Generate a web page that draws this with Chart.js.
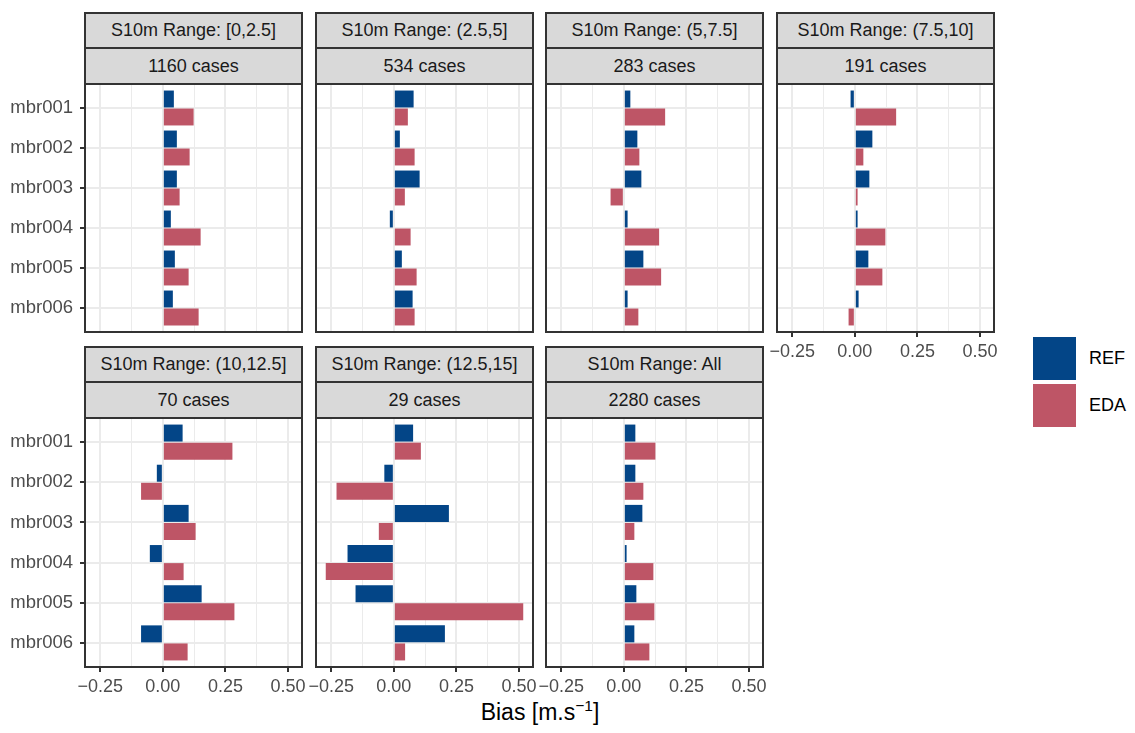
<!DOCTYPE html>
<html>
<head>
<meta charset="utf-8">
<script src="https://cdn.jsdelivr.net/npm/chart.js@4.4.1/dist/chart.umd.min.js"></script>
<style>
  html, body { margin: 0; padding: 0; background: #fff; }
  body { width: 1135px; height: 733px; overflow: hidden; position: relative;
         font-family: "Liberation Sans", Arial, Helvetica, sans-serif; }
  .strip { position: absolute; box-sizing: border-box; background: #d9d9d9;
           border: 2px solid #333; color: #1a1a1a; font-size: 18px;
           display: flex; align-items: center; justify-content: center; white-space: nowrap; }
  canvas { position: absolute; }
  .key { position: absolute; width: 43px; height: 43px; }
  .keylab { position: absolute; font-size: 18px; color: #000; line-height: 43px; }
  #xtitle { position: absolute; left: 0; width: 1080px; top: 699px; text-align: center;
            font-size: 23px; color: #000; }
  #xtitle sup { font-size: 15.5px; vertical-align: 9px; line-height: 0; }
</style>
</head>
<body>
<div id="xtitle">Bias [m.s<sup>&minus;1</sup>]</div>
<script>
// Ensemble members (y categories)
const members = ['mbr001', 'mbr002', 'mbr003', 'mbr004', 'mbr005', 'mbr006'];

// Facet headers
const rangeLabels = ['S10m Range: [0,2.5]', 'S10m Range: (2.5,5]', 'S10m Range: (5,7.5]',
                     'S10m Range: (7.5,10]', 'S10m Range: (10,12.5]', 'S10m Range: (12.5,15]',
                     'S10m Range: All'];
const caseCounts = [1160, 534, 283, 191, 70, 29, 2280];

// Bias per wind-speed class, one row per facet, one value per member
const refBias = [
  [0.044, 0.056, 0.056, 0.032, 0.048, 0.040],
  [0.079, 0.024, 0.103, -0.016, 0.032, 0.075],
  [0.026, 0.054, 0.070, 0.015, 0.078, 0.015],
  [-0.017, 0.070, 0.058, 0.011, 0.054, 0.015],
  [0.079, -0.024, 0.103, -0.052, 0.155, -0.087],
  [0.077, -0.038, 0.220, -0.185, -0.153, 0.204],
  [0.046, 0.046, 0.074, 0.011, 0.050, 0.042]
];
const edaBias = [
  [0.123, 0.107, 0.067, 0.151, 0.103, 0.143],
  [0.056, 0.083, 0.044, 0.067, 0.091, 0.083],
  [0.165, 0.062, -0.053, 0.141, 0.149, 0.058],
  [0.165, 0.034, 0.011, 0.122, 0.110, -0.025],
  [0.278, -0.087, 0.131, 0.083, 0.286, 0.099],
  [0.108, -0.229, -0.060, -0.272, 0.517, 0.045],
  [0.126, 0.078, 0.042, 0.118, 0.122, 0.102]
];

// Axis breaks
const xMajor = [-0.25, 0, 0.25, 0.5];
const xMinor = [-0.125, 0.125, 0.375];
const seriesNames = ['REF', 'EDA'];
const seriesColors = ['#034587', '#be5566'];

Chart.defaults.font.family = '"Liberation Sans", Arial, Helvetica, sans-serif';

// Facet grid geometry
const colLeft = [85, 316, 546, 777];
const rowTop = [84, 418];
const rowHeight = [248, 249];
const panelWidth = 217;
const padL = 90, padR = 25, padT = 24, padB = 45;

const panelFrame = {
  id: 'panelFrame',
  afterDraw(chart) {
    const { ctx, chartArea: a } = chart;
    ctx.save();
    ctx.strokeStyle = '#333';
    ctx.lineWidth = 2;
    ctx.strokeRect(a.left, a.top, a.right - a.left, a.bottom - a.top);
    ctx.restore();
  }
};

function fmtTick(v) {
  const s = v.toFixed(2);
  return v < 0 ? '\u2212' + s.slice(1) : s;
}

function addStrip(text, left, top, width, height) {
  const d = document.createElement('div');
  d.className = 'strip';
  d.style.left = left + 'px';
  d.style.top = top + 'px';
  d.style.width = width + 'px';
  d.style.height = height + 'px';
  d.textContent = text;
  document.body.appendChild(d);
}

rangeLabels.forEach((label, i) => {
  const row = Math.floor(i / 4), col = i % 4;
  const L = colLeft[col], T = rowTop[row], H = rowHeight[row];
  const showY = col === 0;
  const showX = row === 1 || i === 3;

  addStrip(label, L - 1, T - 72, panelWidth + 2, 37);
  addStrip(caseCounts[i] + ' cases', L - 1, T - 37, panelWidth + 2, 38);

  const cv = document.createElement('canvas');
  cv.width = panelWidth + padL + padR;
  cv.height = H + padT + padB;
  cv.style.left = (L - padL) + 'px';
  cv.style.top = (T - padT) + 'px';
  document.body.appendChild(cv);

  const series = [refBias[i], edaBias[i]];
  new Chart(cv, {
    type: 'bar',
    data: {
      datasets: series.map((vals, s) => ({
        label: seriesNames[s],
        data: vals.map((v, k) => ({ x: v, y: k + 1 })),
        backgroundColor: seriesColors[s],
        borderWidth: 0,
        categoryPercentage: 0.9,
        barPercentage: 0.94
      }))
    },
    options: {
      indexAxis: 'y',
      responsive: false,
      animation: false,
      devicePixelRatio: 1,
      layout: { padding: { left: 0, right: padR, top: padT, bottom: 0 } },
      plugins: { legend: { display: false }, tooltip: { enabled: false } },
      scales: {
        x: {
          type: 'linear',
          min: -0.311,
          max: 0.556,
          offset: false,
          afterBuildTicks: s => {
            s.ticks = xMajor.concat(xMinor).sort((a, b) => a - b).map(v => ({ value: v }));
          },
          afterFit: s => { s.height = padB; },
          border: { display: false },
          grid: {
            offset: false,
            color: '#ebebeb',
            lineWidth: c => (c.tick && xMajor.includes(c.tick.value)) ? 2 : 1,
            drawTicks: showX,
            tickLength: 5,
            tickWidth: 2,
            tickColor: c => (c.tick && xMajor.includes(c.tick.value)) ? '#333333' : 'rgba(0,0,0,0)'
          },
          ticks: {
            display: showX,
            autoSkip: false,
            maxRotation: 0,
            padding: 4,
            color: '#4d4d4d',
            font: { size: 18 },
            callback: v => xMajor.includes(v) ? fmtTick(v) : ''
          }
        },
        y: {
          type: 'linear',
          min: 0.4,
          max: 6.6,
          reverse: true,
          offset: false,
          afterBuildTicks: s => { s.ticks = members.map((m, k) => ({ value: k + 1 })); },
          afterFit: s => { s.width = padL; },
          border: { display: false },
          grid: {
            offset: false,
            color: '#ebebeb',
            lineWidth: 2,
            drawTicks: showY,
            tickLength: 5,
            tickWidth: 2,
            tickColor: '#333333'
          },
          ticks: {
            display: showY,
            autoSkip: false,
            padding: 7,
            color: '#4d4d4d',
            font: { size: 18.5 },
            callback: v => members[v - 1]
          }
        }
      }
    },
    plugins: [panelFrame]
  });
});

// Legend
seriesNames.forEach((name, s) => {
  const top = 337 + s * 47;
  const k = document.createElement('div');
  k.className = 'key';
  k.style.left = '1033px';
  k.style.top = top + 'px';
  k.style.background = seriesColors[s];
  document.body.appendChild(k);
  const t = document.createElement('div');
  t.className = 'keylab';
  t.style.left = '1089px';
  t.style.top = top + 'px';
  t.textContent = name;
  document.body.appendChild(t);
});
</script>
</body>
</html>
